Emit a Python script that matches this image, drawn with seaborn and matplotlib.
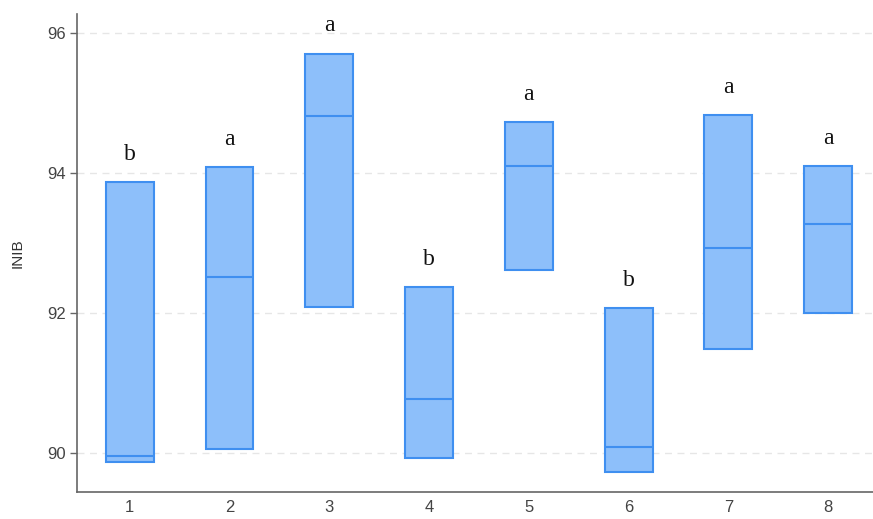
import numpy as np
import pandas as pd
import matplotlib
matplotlib.use("Agg")
import matplotlib.pyplot as plt
import seaborn as sns

# Box summaries (INIB)
groups = ["1", "2", "3", "4", "5", "6", "7", "8"]
lows = [89.88, 90.06, 92.09, 89.94, 92.62, 89.73, 91.49, 92.00]
medians = [89.96, 92.52, 94.82, 90.77, 94.10, 90.09, 92.93, 93.27]
highs = [93.87, 94.09, 95.71, 92.37, 94.73, 92.07, 94.83, 94.10]
letters = ["b", "a", "a", "b", "a", "b", "a", "a"]

# five points per group -> q1 = low, median = median, q3 = high
rows = []
for g, lo, md, hi in zip(groups, lows, medians, highs):
    for v in [lo, lo, md, hi, hi]:
        rows.append({"group": g, "INIB": v})
df = pd.DataFrame(rows)

sns.set_style("white")
plt.rcParams["font.family"] = ["Liberation Sans", "DejaVu Sans"]

fig = plt.figure(figsize=(8.73, 5.19), dpi=100)
ax = fig.add_axes([0.088, 0.052, 0.912, 0.921])

fill = "#8dbffa"
edge = "#3f8ff0"
sns.boxplot(data=df, x="group", y="INIB", order=groups, width=0.48,
            whis=0, showcaps=False, showfliers=False, ax=ax,
            boxprops=dict(facecolor=fill, edgecolor=edge, linewidth=1.5),
            medianprops=dict(color=edge, linewidth=1.5),
            whiskerprops=dict(color=edge, linewidth=0),
            zorder=3)

for i, (hi, lab) in enumerate(zip(highs, letters)):
    ax.text(i, hi + 0.4, lab, ha="center", va="center", fontsize=17,
            family=["Liberation Serif", "DejaVu Serif"], color="#111111")

ax.set_ylim(89.447, 96.276)
ax.set_xlim(-0.53, 7.45)
ax.set_yticks([90, 92, 94, 96])
ax.yaxis.grid(True, linestyle=(0, (5, 4)), color="#e6e6e6", linewidth=1)
ax.set_axisbelow(True)

for s in ["top", "right"]:
    ax.spines[s].set_visible(False)
for s in ["left", "bottom"]:
    ax.spines[s].set_color("#666666")
    ax.spines[s].set_linewidth(1.2)

ax.tick_params(axis="y", which="both", left=True, length=5, width=1,
               color="#666666", labelsize=12, labelcolor="#444444", pad=3)
ax.tick_params(axis="x", bottom=False, labelsize=12, labelcolor="#444444", pad=2)
ax.set_xlabel("")
ax.set_ylabel("INIB", fontsize=11, color="#333333", labelpad=16)

fig.savefig("out.png", dpi=100)
